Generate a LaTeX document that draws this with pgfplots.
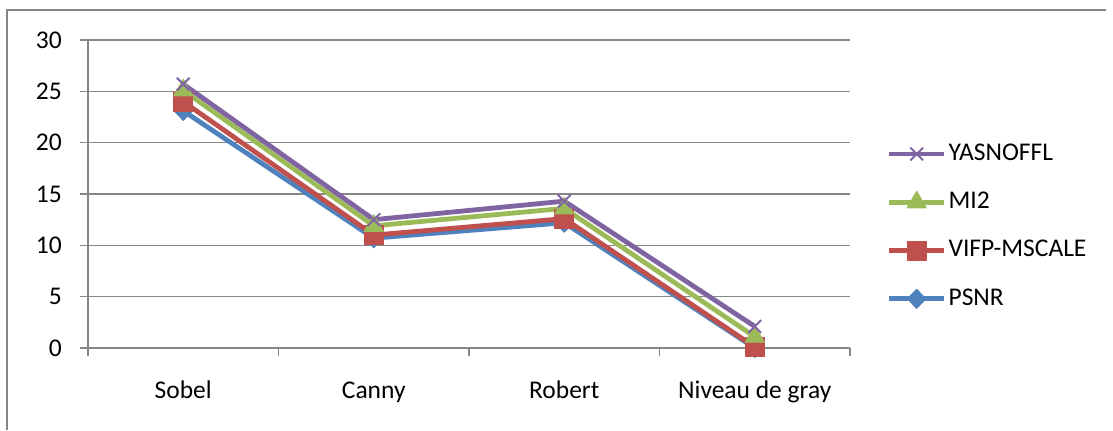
\documentclass[border=0pt]{standalone}
\usepackage{fontspec}
\setmainfont{Carlito}
\usepackage{pgfplots}
\usepackage{pgfplotstable}
\pgfplotsset{compat=1.18}

\definecolor{cpsnr}{HTML}{4F81BD}
\definecolor{cvifp}{HTML}{C0504D}
\definecolor{cmi}{HTML}{9BBB59}
\definecolor{cyas}{HTML}{8064A2}
\definecolor{gridgray}{HTML}{868686}

% scores per edge detector
\pgfplotstableread{
x PSNR VIFP MI2 YAS
0 23.1 24.0 25.1 25.7
1 10.7 11.0 11.9 12.5
2 12.2 12.6 13.6 14.3
3 0.0  0.1  1.1  2.1
}\scores

\begin{document}
\fontsize{25bp}{30bp}\selectfont
\begin{tikzpicture}[x=1bp,y=1bp]
\useasboundingbox (0,0) rectangle (1113,430);
% outer chart frame
\draw[gridgray, line width=2.5bp] (7,0) -- (7,420) -- (1106,420);
\begin{axis}[
  at={(88bp,82bp)}, anchor=south west,
  scale only axis, width=762bp, height=308bp,
  xmin=-0.5, xmax=3.5, ymin=0, ymax=30,
  axis lines=left, axis line style={-, gridgray, line width=1.5bp},
  xtick={0,1,2,3},
  xticklabels={Sobel, Canny, Robert, Niveau de gray},
  major x tick style={draw=none},
  minor xtick={-0.5,0.5,1.5,2.5,3.5},
  minor x tick style={gridgray, line width=1.5bp},
  minor tick length=8bp,
  ytick={0,5,...,30},
  ymajorgrids, grid style={gridgray, line width=1.5bp},
  y tick style={gridgray, line width=1.5bp},
  major tick length=8bp, tick align=outside,
  tick label style={font=\fontsize{25.5bp}{30bp}\selectfont},
  /pgf/number format/assume math mode=true,
  xticklabel style={anchor=base, yshift=-42bp},
  yticklabel style={anchor=east, inner sep=0pt, xshift=-18bp},
  every axis plot/.append style={line width=4.8bp, line join=round},
  legend style={at={(1.048,0.67)}, anchor=north west, draw=none, fill=none,
    font=\fontsize{25.5bp}{30bp}\selectfont, row sep=24bp, inner sep=0pt},
  legend cell align=left,
  legend image code/.code={
    \draw[#1, mark repeat=2, mark phase=2] plot coordinates {(0bp,0bp) (27.5bp,0bp) (55bp,0bp)};},
  reverse legend,
  clip=false,
]
\addplot[cpsnr, mark=diamond*, mark options={solid, xscale=1.3, line width=1bp}, mark size=9.5bp]
  table[x=x, y=PSNR] {\scores};
\addlegendentry{PSNR}
\addplot[cvifp, mark=square*, mark options={solid, line width=1bp}, mark size=9.5bp]
  table[x=x, y=VIFP] {\scores};
\addlegendentry{VIFP-MSCALE}
\addplot[cmi, mark=triangle*, mark options={solid, line width=1bp}, mark size=11bp]
  table[x=x, y=MI2] {\scores};
\addlegendentry{MI2}
\addplot[cyas, mark=x, mark options={solid, line width=2bp}, mark size=9bp]
  table[x=x, y=YAS] {\scores};
\addlegendentry{YASNOFFL}
\end{axis}
\end{tikzpicture}
\end{document}
